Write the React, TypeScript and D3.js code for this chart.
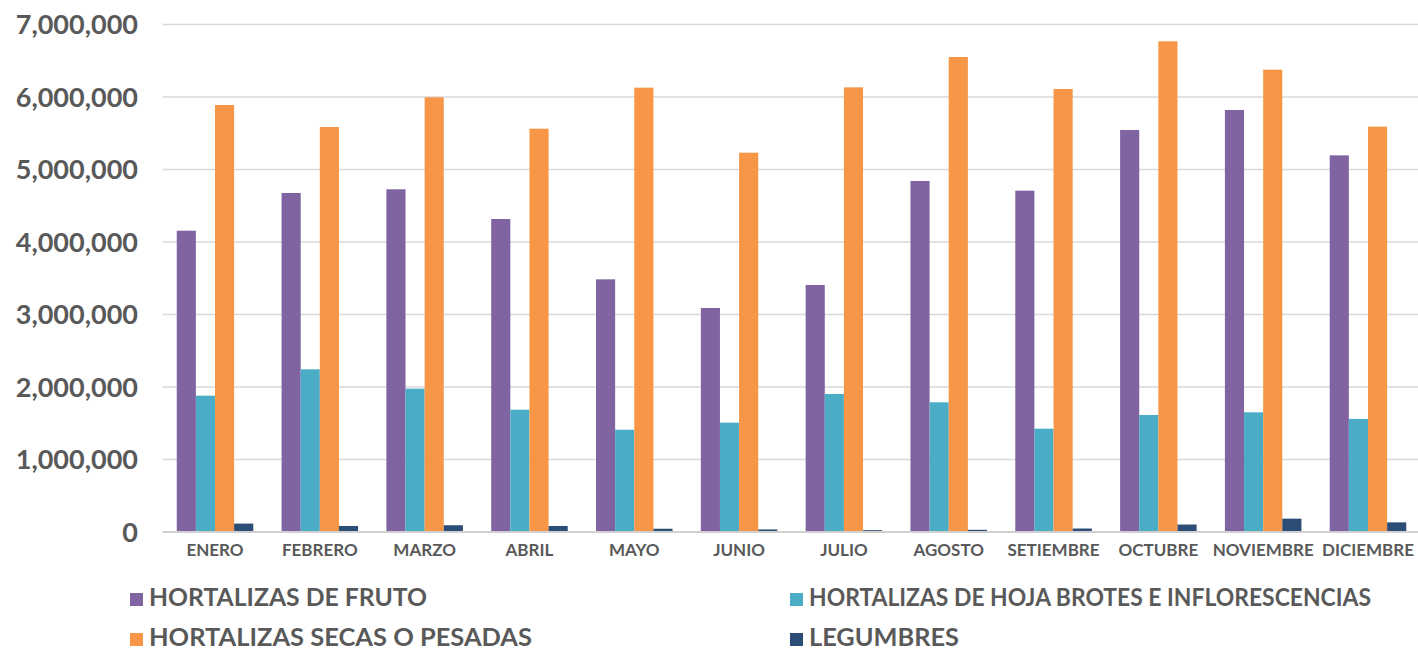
import React, { useEffect, useRef } from 'react';
import * as d3 from 'd3';

const months = ['ENERO', 'FEBRERO', 'MARZO', 'ABRIL', 'MAYO', 'JUNIO', 'JULIO', 'AGOSTO', 'SETIEMBRE', 'OCTUBRE', 'NOVIEMBRE', 'DICIEMBRE'];

const seriesNames = [
  'HORTALIZAS DE FRUTO',
  'HORTALIZAS DE HOJA BROTES E INFLORESCENCIAS',
  'HORTALIZAS SECAS O PESADAS',
  'LEGUMBRES'
];

const fruto = [4156000, 4676000, 4727000, 4317000, 3485000, 3090000, 3407000, 4841000, 4708000, 5545000, 5821000, 5195000];
const hoja = [1880000, 2244000, 1977000, 1687000, 1411000, 1508000, 1903000, 1789000, 1425000, 1614000, 1651000, 1559000];
const secas = [5890000, 5586000, 5996000, 5563000, 6129000, 5232000, 6133000, 6552000, 6110000, 6768000, 6377000, 5591000];
const legumbres = [116000, 83000, 93000, 83000, 45000, 35000, 25000, 30000, 48000, 103000, 184000, 133000];

const yTicks = [0, 1000000, 2000000, 3000000, 4000000, 5000000, 6000000, 7000000];

const colors = ['#8064A2', '#4BACC6', '#F79646', '#2C4D75'];

export default function App() {
  const svgRef = useRef<SVGSVGElement>(null);

  useEffect(() => {
    if (!svgRef.current) return;
    const width = 1418;
    const height = 651;
    const font = 'Lato, "Noto Sans", sans-serif';
    const textColor = '#595959';

    const svg = d3.select(svgRef.current);
    svg.selectAll('*').remove();
    svg.attr('width', width).attr('height', height);

    const values = [fruto, hoja, secas, legumbres];

    const x0 = d3.scaleBand<string>()
      .domain(months)
      .range([162.6, 1420.4])
      .paddingInner(0.27)
      .paddingOuter(0.135);

    const x1 = d3.scaleBand<number>()
      .domain(d3.range(seriesNames.length))
      .range([0, x0.bandwidth()]);

    const y = d3.scaleLinear().domain([0, 7000000]).range([532, 24.5]);

    // gridlines
    svg.append('g')
      .selectAll('line')
      .data(yTicks.filter(t => t > 0))
      .join('line')
      .attr('x1', 162.6)
      .attr('x2', width)
      .attr('y1', d => y(d))
      .attr('y2', d => y(d))
      .attr('stroke', '#d9d9d9')
      .attr('stroke-width', 1.5);

    // y tick labels
    svg.append('g')
      .selectAll('text')
      .data(yTicks)
      .join('text')
      .attr('x', 138)
      .attr('y', d => y(d))
      .attr('dy', '0.36em')
      .attr('text-anchor', 'end')
      .attr('font-family', font)
      .attr('font-weight', 'bold')
      .attr('font-size', 27)
      .attr('fill', textColor)
      .text(d => d3.format(',')(d));

    // bars
    const groups = svg.append('g')
      .selectAll('g')
      .data(months)
      .join('g')
      .attr('transform', d => `translate(${x0(d)},0)`);

    groups.selectAll('rect')
      .data((m, i) => values.map((s, k) => ({ k, v: s[i] })))
      .join('rect')
      .attr('x', d => x1(d.k)!)
      .attr('width', x1.bandwidth())
      .attr('y', d => y(d.v))
      .attr('height', d => y(0) - y(d.v))
      .attr('fill', d => colors[d.k]);

    // baseline
    svg.append('line')
      .attr('x1', 162.6)
      .attr('x2', width)
      .attr('y1', y(0))
      .attr('y2', y(0))
      .attr('stroke', '#d0d0d0')
      .attr('stroke-width', 2);

    // x labels
    svg.append('g')
      .selectAll('text')
      .data(months)
      .join('text')
      .attr('x', d => x0(d)! + x0.bandwidth() / 2)
      .attr('y', 556)
      .attr('text-anchor', 'middle')
      .attr('font-family', font)
      .attr('font-weight', 'bold')
      .attr('font-size', 17)
      .attr('fill', textColor)
      .text(d => d);

    // legend (two columns, two rows)
    const legendPos = [
      { x: 130, y: 606, w: 278 },
      { x: 790, y: 606, w: 562 },
      { x: 130, y: 646, w: 383 },
      { x: 790, y: 646, w: 150 }
    ];
    const legend = svg.append('g')
      .selectAll('g')
      .data(seriesNames)
      .join('g')
      .attr('transform', (d, i) => `translate(${legendPos[i].x},${legendPos[i].y})`);

    legend.append('rect')
      .attr('x', 0)
      .attr('y', -13)
      .attr('width', 13)
      .attr('height', 13)
      .attr('fill', (d, i) => colors[i]);

    legend.append('text')
      .attr('x', 19)
      .attr('y', 0)
      .attr('font-family', font)
      .attr('font-weight', 'bold')
      .attr('font-size', 24)
      .attr('textLength', (d, i) => legendPos[i].w)
      .attr('lengthAdjust', 'spacingAndGlyphs')
      .attr('fill', textColor)
      .text(d => d);
  }, []);

  return (
    <svg ref={svgRef} style={{ position: 'absolute', left: 0, top: 0, background: '#fff' }}></svg>
  );
}
